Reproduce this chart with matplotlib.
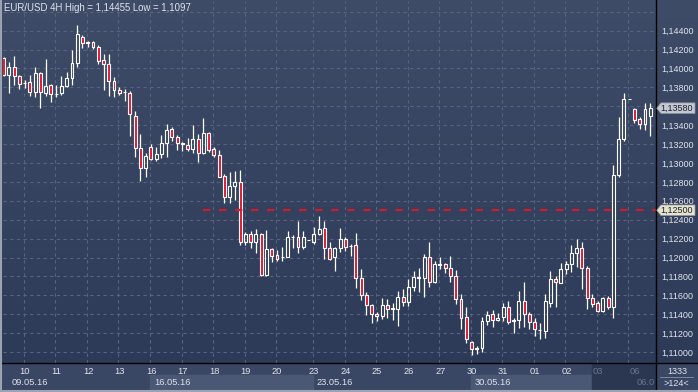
import numpy as np
import matplotlib
matplotlib.use("Agg")
import matplotlib.pyplot as plt
from matplotlib.colors import LinearSegmentedColormap
from matplotlib.patches import Polygon, Rectangle
from matplotlib.lines import Line2D
from matplotlib.transforms import IdentityTransform, offset_copy

plt.rcParams['font.family'] = ['Liberation Sans', 'DejaVu Sans']

# ---------------- data (EUR/USD, 4H bars) ----------------
opens = [1.14107, 1.13931, 1.14012, 1.13920, 1.13846, 1.13853, 1.13751, 1.13956, 1.13737, 1.13822,
         1.13730, 1.13737, 1.13815, 1.13896, 1.14054, 1.14329, 1.14270, 1.14277, 1.14224, 1.14086,
         1.14044, 1.13864, 1.13769, 1.13748, 1.13737, 1.13501, 1.13155, 1.12943, 1.13169, 1.13039,
         1.13091, 1.13208, 1.13356, 1.13271, 1.13206, 1.13187, 1.13151, 1.13254, 1.13109, 1.13321,
         1.13144, 1.13088, 1.12862, 1.12637, 1.12756, 1.12795, 1.12167, 1.12249, 1.12167, 1.12249,
         1.11815, 1.12086, 1.12023, 1.12006, 1.12009, 1.12218, 1.12220, 1.12114, 1.12181, 1.12167,
         1.12245, 1.12308, 1.12097, 1.12002, 1.12097, 1.12192, 1.12124, 1.12129, 1.11779, 1.11600,
         1.11494, 1.11399, 1.11384, 1.11494, 1.11457, 1.11459, 1.11585, 1.11533, 1.11691, 1.11785,
         1.11779, 1.12002, 1.11744, 1.11926, 1.11928, 1.11885, 1.11808, 1.11557, 1.11367, 1.11102,
         1.11028, 1.11046, 1.11332, 1.11399, 1.11339, 1.11374, 1.11473, 1.11333, 1.11335, 1.11543,
         1.11399, 1.11314, 1.11234, 1.11226, 1.11515, 1.11769, 1.11734, 1.11875, 1.11928, 1.12044,
         1.12097, 1.11885, 1.11568, 1.11515, 1.11430, 1.11568, 1.11473, 1.12869, 1.13250, 1.13673,
         1.13568, 1.13465, 1.13409, 1.13501]
highs = [1.14118, 1.14065, 1.14132, 1.13931, 1.13878, 1.13931, 1.14012, 1.13966, 1.14097, 1.13836,
         1.13825, 1.13920, 1.13966, 1.14195, 1.14455, 1.14354, 1.14294, 1.14294, 1.14248, 1.14153,
         1.14153, 1.13906, 1.13800, 1.13779, 1.13762, 1.13550, 1.13307, 1.13102, 1.13201, 1.13169,
         1.13296, 1.13412, 1.13384, 1.13293, 1.13226, 1.13261, 1.13398, 1.13307, 1.13472, 1.13328,
         1.13169, 1.13137, 1.12883, 1.12901, 1.12915, 1.12926, 1.12273, 1.12280, 1.12298, 1.12263,
         1.12291, 1.12100, 1.12079, 1.12107, 1.12280, 1.12238, 1.12386, 1.12280, 1.12181, 1.12323,
         1.12439, 1.12386, 1.12160, 1.12114, 1.12308, 1.12213, 1.12143, 1.12256, 1.11878, 1.11638,
         1.11504, 1.11423, 1.11568, 1.11557, 1.11522, 1.11649, 1.11663, 1.11772, 1.11857, 1.11885,
         1.12033, 1.12160, 1.11966, 1.12002, 1.11945, 1.12016, 1.11868, 1.11614, 1.11480, 1.11120,
         1.11067, 1.11374, 1.11434, 1.11444, 1.11409, 1.11515, 1.11540, 1.11360, 1.11649, 1.11741,
         1.11420, 1.11363, 1.11303, 1.11614, 1.11861, 1.11804, 1.11945, 1.11966, 1.12132, 1.12196,
         1.12167, 1.11910, 1.11614, 1.11543, 1.11585, 1.11593, 1.12979, 1.13483, 1.13737, 1.13673,
         1.13578, 1.13490, 1.13631, 1.13631]
lows = [1.13920, 1.13744, 1.13825, 1.13783, 1.13790, 1.13709, 1.13702, 1.13578, 1.13709, 1.13649,
        1.13695, 1.13719, 1.13807, 1.13825, 1.14019, 1.14220, 1.14224, 1.14210, 1.14044, 1.13776,
        1.13709, 1.13702, 1.13719, 1.13659, 1.13289, 1.13067, 1.12813, 1.12855, 1.13032, 1.13024,
        1.13056, 1.13067, 1.13236, 1.13137, 1.13130, 1.13130, 1.13109, 1.13014, 1.13095, 1.13116,
        1.13067, 1.12848, 1.12573, 1.12580, 1.12608, 1.12132, 1.12132, 1.12104, 1.12044, 1.11804,
        1.11804, 1.11956, 1.11959, 1.11966, 1.12002, 1.12097, 1.12044, 1.12086, 1.12181, 1.12143,
        1.12238, 1.11984, 1.11973, 1.11861, 1.12055, 1.12072, 1.12019, 1.11681, 1.11550, 1.11392,
        1.11310, 1.11332, 1.11353, 1.11363, 1.11339, 1.11275, 1.11487, 1.11487, 1.11649, 1.11635,
        1.11585, 1.11691, 1.11727, 1.11878, 1.11832, 1.11744, 1.11508, 1.11240, 1.11099, 1.10970,
        1.10975, 1.11004, 1.11286, 1.11268, 1.11332, 1.11328, 1.11296, 1.11205, 1.11250, 1.11261,
        1.11240, 1.11169, 1.11134, 1.11152, 1.11480, 1.11480, 1.11727, 1.11825, 1.11850, 1.11903,
        1.11663, 1.11451, 1.11473, 1.11423, 1.11423, 1.11459, 1.11356, 1.12855, 1.13236, 1.13673,
        1.13419, 1.13356, 1.13349, 1.13289]
closes = [1.13931, 1.14012, 1.13920, 1.13836, 1.13843, 1.13751, 1.13949, 1.13751, 1.13815, 1.13730,
          1.13735, 1.13815, 1.13896, 1.14054, 1.14361, 1.14266, 1.14275, 1.14231, 1.14076, 1.14044,
          1.13864, 1.13769, 1.13740, 1.13753, 1.13515, 1.13155, 1.12943, 1.13074, 1.13039, 1.13091,
          1.13208, 1.13349, 1.13271, 1.13208, 1.13210, 1.13151, 1.13254, 1.13102, 1.13314, 1.13134,
          1.13081, 1.12855, 1.12637, 1.12756, 1.12795, 1.12167, 1.12249, 1.12167, 1.12249, 1.11815,
          1.12086, 1.12016, 1.11988, 1.12010, 1.12213, 1.12222, 1.12114, 1.12220, 1.12181, 1.12245,
          1.12298, 1.12097, 1.11988, 1.12097, 1.12192, 1.12114, 1.12120, 1.11779, 1.11600, 1.11494,
          1.11399, 1.11377, 1.11494, 1.11451, 1.11461, 1.11578, 1.11533, 1.11691, 1.11790, 1.11789,
          1.12002, 1.11744, 1.11928, 1.11930, 1.11885, 1.11808, 1.11557, 1.11356, 1.11134, 1.11028,
          1.11046, 1.11332, 1.11388, 1.11339, 1.11363, 1.11473, 1.11321, 1.11337, 1.11540, 1.11399,
          1.11314, 1.11240, 1.11238, 1.11540, 1.11769, 1.11737, 1.11875, 1.11928, 1.12044, 1.12097,
          1.11885, 1.11568, 1.11504, 1.11430, 1.11568, 1.11480, 1.12869, 1.13250, 1.13673, 1.13673,
          1.13451, 1.13409, 1.13568, 1.13580]

level_price = 1.12500
level_start_bar = 37.9

day_labels = ['10', '11', '12', '13', '16', '17', '18', '19', '20', '23',
              '24', '25', '26', '27', '30', '31', '01', '02', '03', '06']
day_start_bar = [4, 10, 16, 22, 28, 34, 40, 46, 52, 59,
                 65, 71, 77, 83, 89, 95, 101, 107, 113, 119]
week_labels = ['09.05.16', '16.05.16', '23.05.16', '30.05.16', '06.0']
week_start_bar = [-2, 28, 59, 89, 119]

price_ticks = [1.110, 1.112, 1.114, 1.116, 1.118, 1.120, 1.122, 1.124, 1.126, 1.128,
               1.130, 1.132, 1.134, 1.136, 1.138, 1.140, 1.142, 1.144, 1.146]
hidden_ticks = [1.136, 1.146]

title = "EUR/USD 4H High = 1,14455 Low = 1,1097"
footer_top, footer_bottom = "1333", ">124<"

# ---------------- styling ----------------
W, H = 698, 392
RED = '#e3132d'
TXT = '#dfe3ea'
DIM = '#68758e'
GRID = '#57637f'
PANEL = '#3a4764'


def fx(px):
    return px / W


def fy(py):
    return 1 - py / H


fig = plt.figure(figsize=(W / 100, H / 100), dpi=100)
fig.patch.set_facecolor(PANEL)

# background gradient
bg = fig.add_axes([0, 0, 1, 1], zorder=0)
grad = np.linspace(0, 1, 256).reshape(-1, 1)
cmap = LinearSegmentedColormap.from_list('bg', ['#3f4c68', '#2b3957'])
bg.imshow(grad, aspect='auto', cmap=cmap, extent=[0, 1, 0, 1], origin='upper')
bg.set_axis_off()

# main axes
L, R, T, B = 3, 655.5, 1, 363
ax = fig.add_axes([fx(L), fy(B), fx(R) - fx(L), fy(T) - fy(B)], zorder=2)
ax.set_facecolor('none')
n = len(opens)
x = np.arange(n)
o = np.array(opens); c = np.array(closes); h = np.array(highs); lo = np.array(lows)
ax.set_xlim(-0.12, n + 0.0)
ax.set_ylim(1.10884, 1.14714)

# grid
ax.set_yticks(price_ticks)
ax.set_yticklabels(['' if t in hidden_ticks else f"{t:.5f}".replace('.', ',') for t in price_ticks])
ax.yaxis.tick_right()
ax.tick_params(axis='y', length=0, pad=4, labelsize=6.5, labelcolor=TXT)
ax.set_xticks(np.array(day_start_bar) - 0.15)
ax.tick_params(axis='x', length=0, labelbottom=False)
ax.grid(True, color=GRID, lw=0.8, ls=(0, (3, 3)))
ax.set_axisbelow(True)
for s in ax.spines.values():
    s.set_visible(False)

# candles
top = np.maximum(o, c)
bot = np.minimum(o, c)
ax.vlines(x, top, h, color='white', lw=0.9, zorder=3)
ax.vlines(x, lo, bot, color='white', lw=0.9, zorder=3)
face = [RED if cc < oo else 'none' for oo, cc in zip(o, c)]
ax.bar(x, top - bot, bottom=bot, width=0.56, color=face, edgecolor='white', linewidth=0.8, zorder=4)

# level line
ax.hlines(level_price, level_start_bar, n, color='#d81a28', lw=1.5, linestyles=(0, (3.5, 4.2)), zorder=5)

# title
fig.text(fx(3.5), fy(8), title, fontsize=6.9, color=TXT, ha='left', va='center', zorder=10)

# separator lines
fig.add_artist(Line2D([fx(R), fx(R)], [0, 1], color='black', lw=1, zorder=20))
fig.add_artist(Line2D([0, 1], [fy(B), fy(B)], color='black', lw=1, zorder=20))

# bottom panel
axb = fig.add_axes([fx(L), 0, fx(R) - fx(L), fy(B)], zorder=3, sharex=ax)
axb.set_facecolor(PANEL)
axb.set_ylim(0, 1)
axb.set_axis_off()
fig.add_artist(Rectangle((0, 0), 1, fy(B), transform=fig.transFigure, color=PANEL, zorder=1))
gx = [b - 0.15 for b in day_start_bar]
# week highlight boxes
for i in (1, 3):
    axb.add_patch(Rectangle((week_start_bar[i] - 0.15, 0.07), week_start_bar[i + 1] - week_start_bar[i], 0.5,
                            color='#4a5875', zorder=1))
# darker future zone
future_start = 111.9
axb.add_patch(Rectangle((future_start, 0.07), n - future_start, 0.93, color='#2b3750', zorder=2))
for lab, g in zip(day_labels, gx):
    dim = g > future_start
    axb.annotate(lab, xy=(g, 0.70), xycoords='data', xytext=(1 if lab != '06' else 6, 0),
                 textcoords='offset pixels', ha='center', va='center', fontsize=6.7,
                 color=DIM if dim else TXT, zorder=5, annotation_clip=False)
for i, lab in enumerate(week_labels):
    if i == 0:
        axb.text(fx(12) / (fx(R) - fx(L)) - 0.0045, 0.32, lab, transform=axb.transAxes, ha='left', va='center',
                 fontsize=6.7, color=TXT, zorder=5)
    else:
        dim = week_start_bar[i] > future_start
        tr = offset_copy(axb.transData, fig=fig, x=4 if not dim else 8, y=0, units='dots')
        t = axb.text(week_start_bar[i] - 0.15, 0.32, lab, transform=tr, ha='left', va='center',
                     fontsize=6.7, color=DIM if dim else TXT, zorder=5, clip_on=True)
        t.set_clip_box(axb.bbox)

# price tags
fig.canvas.draw()


def price_tag(price, fc, label):
    yc = ax.transData.transform((0, price))[1]
    pts = [(656.7, yc), (661, yc + 5.3), (695, yc + 5.3), (695, yc - 5.3), (661, yc - 5.3)]
    fig.add_artist(Polygon(pts, closed=True, transform=IdentityTransform(), facecolor=fc,
                           edgecolor='#8d939e', lw=0.5, zorder=30))
    fig.text(677, yc, label, transform=IdentityTransform(), ha='center', va='center',
             fontsize=6.5, color='#1d2230', zorder=31)


price_tag(closes[-1], '#c3c7cf', f"{closes[-1]:.5f}".replace('.', ','))
price_tag(level_price, '#e6e3cd', f"{level_price:.5f}".replace('.', ','))

# footer box
fig.text(fx(677.5), fy(371), footer_top, ha='center', va='center', fontsize=6.5, color=TXT, zorder=10)
fig.text(fx(676.5), fy(383.3), footer_bottom, ha='center', va='center', fontsize=6.5, color=TXT, zorder=10)
fig.add_artist(Line2D([fx(660), fx(693)], [fy(376.7), fy(376.7)], color='#8a93a5', lw=0.6, zorder=10))

# outer border
fig.add_artist(Line2D([fx(1), fx(1)], [0, 1], color='#9aa3b2', lw=1.5, zorder=40))
fig.add_artist(Line2D([0, 1], [fy(391), fy(391)], color='#9aa3b2', lw=1.5, zorder=40))

fig.savefig('out.png', dpi=100, facecolor=fig.get_facecolor())
